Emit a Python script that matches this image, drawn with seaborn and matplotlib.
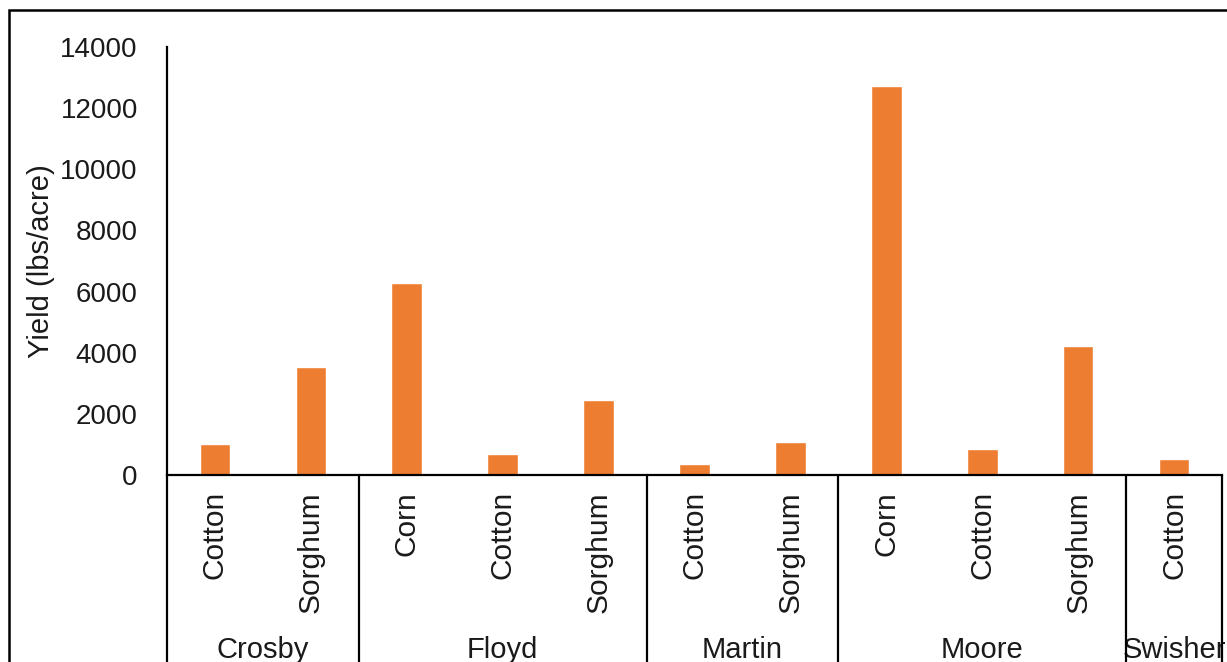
import numpy as np
import pandas as pd
import matplotlib
matplotlib.use("Agg")
import matplotlib.pyplot as plt
import matplotlib.transforms as mtransforms
from matplotlib.lines import Line2D
from matplotlib.patches import Rectangle
import seaborn as sns

# Yield by county and crop
counties = ["Crosby", "Crosby", "Floyd", "Floyd", "Floyd", "Martin", "Martin",
            "Moore", "Moore", "Moore", "Swisher"]
crops = ["Cotton", "Sorghum", "Corn", "Cotton", "Sorghum", "Cotton", "Sorghum",
         "Corn", "Cotton", "Sorghum", "Cotton"]
yields = [1000, 3530, 6290, 690, 2450, 360, 1080, 12720, 860, 4220, 530]
y_ticks = [0, 2000, 4000, 6000, 8000, 10000, 12000, 14000]

sns.set_style("white")
plt.rcParams["font.family"] = ["Liberation Sans", "DejaVu Sans"]

df = pd.DataFrame({"county": counties, "crop": crops, "yield": yields})
df["slot"] = [f"{c} {k}" for c, k in zip(df["county"], df["crop"])]

W, H = 1227, 662
TXT = "#1a1a1a"
fig = plt.figure(figsize=(W / 100, H / 100), dpi=100)
ax = fig.add_axes([167 / W, (H - 475) / H, (1222 - 167) / W, (475 - 47) / H])

sns.barplot(data=df, x="slot", y="yield", order=list(df["slot"]),
            color="#ED7D31", saturation=1, width=0.32, ax=ax)

n = len(df)
ax.set_xlim(-0.5, n - 0.5)
ax.set_ylim(0, 14000)
ax.set_yticks(y_ticks)
ax.set_yticklabels([str(v) for v in y_ticks], fontsize=20, color=TXT)
ax.tick_params(axis="y", length=0, pad=21)
ax.set_xticks([])
ax.set_xlabel("")
ax.set_ylabel("Yield (lbs/acre)", fontsize=21, color=TXT)
ax.yaxis.set_label_coords(-0.106, 0.5)

for side in ("top", "right"):
    ax.spines[side].set_visible(False)
for side in ("left", "bottom"):
    ax.spines[side].set_color("black")
    ax.spines[side].set_linewidth(1.6)

# Two-level category axis: crop labels and county groups
trans = mtransforms.blended_transform_factory(ax.transData, fig.transFigure)
for i, crop in enumerate(crops):
    ax.text(i, (H - 491) / H, crop, transform=trans, rotation=90,
            ha="center", va="top", fontsize=21.5, color=TXT)

bounds = [-0.5]
groups = []
start = 0
for i in range(1, n + 1):
    if i == n or counties[i] != counties[i - 1]:
        groups.append((counties[start], (start + i - 1) / 2))
        bounds.append(i - 0.5)
        start = i

for b in bounds:
    fig.add_artist(Line2D([b, b], [(H - 475) / H, -0.01], transform=trans,
                          color="black", lw=1.6, clip_on=False))
for name, cx in groups:
    ax.text(cx, (H - 658) / H, name, transform=trans, ha="center",
            va="baseline", fontsize=21, color=TXT)

# Chart area border
fig.add_artist(Rectangle((9 / W, -0.1), 1.2, (H - 10) / H + 0.1,
                         transform=fig.transFigure, fill=False,
                         edgecolor="black", lw=1.8))

fig.savefig("out.png", dpi=100)
